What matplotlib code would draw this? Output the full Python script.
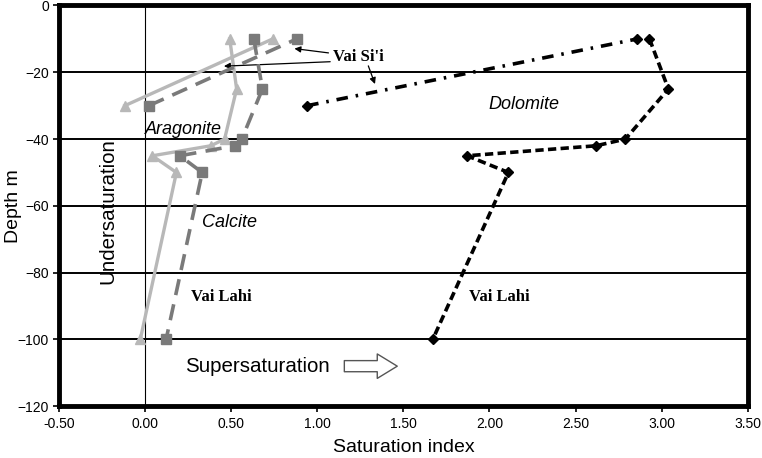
"""Saturation index vs depth for aragonite, calcite and dolomite (Vai Lahi / Vai Si'i)."""

import matplotlib
matplotlib.use("Agg")
import matplotlib.pyplot as plt

# --- data ---
depth_lahi = [-10, -25, -40, -42, -45, -50, -100]
depth_sii = [-30, -10]

dol_lahi = [2.93, 3.04, 2.79, 2.62, 1.87, 2.11, 1.67]
dol_sii = [0.94, 2.86]

cal_lahi = [0.63, 0.68, 0.56, 0.52, 0.20, 0.33, 0.12]
cal_sii = [0.02, 0.88]

ara_lahi = [0.49, 0.53, 0.46, 0.38, 0.04, 0.18, -0.03]
ara_sii = [-0.12, 0.74]

xticks = [-0.5, 0.0, 0.5, 1.0, 1.5, 2.0, 2.5, 3.0, 3.5]
yticks = [0, -20, -40, -60, -80, -100, -120]

SANS = ["Liberation Sans", "DejaVu Sans"]
SERIF = ["Liberation Serif", "DejaVu Serif"]

LIGHT = "#b8b8b8"
MID = "#7a7a7a"

fig = plt.figure(figsize=(7.62, 4.58), dpi=100)
ax = fig.add_axes([0.078, 0.113, 0.903, 0.875])

# gridlines + zero line
for y in yticks[1:-1]:
    ax.axhline(y, color="black", lw=1.4, zorder=1)
ax.axvline(0, color="black", lw=0.8, zorder=1)

# aragonite
ax.plot(ara_lahi, depth_lahi, "-", color=LIGHT, lw=2.4, marker="^", ms=7, zorder=3)
ax.plot(ara_sii, depth_sii, "-", color=LIGHT, lw=2.4, marker="^", ms=7, zorder=3)
# calcite
ax.plot(cal_lahi, depth_lahi, color=MID, lw=2.6, dashes=(4.5, 2.6), marker="s", ms=7, zorder=4)
ax.plot(cal_sii, depth_sii, color=MID, lw=2.6, dashes=(4.5, 2.6), marker="s", ms=7, zorder=4)
# dolomite
ax.plot(dol_lahi, depth_lahi, color="black", lw=2.6, dashes=(2.3, 1.2), marker="D", ms=5, zorder=5)
ax.plot(dol_sii, depth_sii, color="black", lw=2.6, dashes=(3.2, 2.2, 0.7, 2.2), marker="D", ms=5, zorder=5)

ax.set_xlim(-0.5, 3.5)
ax.set_ylim(-120, 0)
ax.set_xticks(xticks)
ax.set_xticklabels([f"{v:.2f}" for v in xticks], family=SANS, fontsize=10)
ax.set_yticks(yticks)
ax.set_yticklabels([str(v).replace("-", "\u2212") for v in yticks], family=SANS, fontsize=10)
ax.tick_params(length=4, width=1.2, direction="out")
for sp in ax.spines.values():
    sp.set_linewidth(3.5)

ax.set_xlabel("Saturation index", family=SANS, fontsize=14, labelpad=6)
ax.set_ylabel("Depth m", family=SANS, fontsize=14)
ax.yaxis.set_label_coords(-0.054, 0.5)

# mineral labels
ax.text(2.20, -29.5, "Dolomite", family=SANS, style="italic", fontsize=13, ha="center", va="center")
ax.text(0.22, -37, "Aragonite", family=SANS, style="italic", fontsize=13, ha="center", va="center")
ax.text(0.49, -65, "Calcite", family=SANS, style="italic", fontsize=13, ha="center", va="center")

ax.text(0.44, -87.2, "Vai Lahi", family=SERIF, weight="bold", fontsize=12, ha="center", va="center")
ax.text(2.06, -87.2, "Vai Lahi", family=SERIF, weight="bold", fontsize=12, ha="center", va="center")

ax.text(-0.22, -61.5, "Undersaturation", family=SANS, fontsize=14.8, rotation=90,
        ha="center", va="center")
ax.text(0.23, -108, "Supersaturation", family=SANS, fontsize=14.8, ha="left", va="center")
ax.annotate("", xy=(1.48, -108), xytext=(1.14, -108),
            arrowprops=dict(arrowstyle="simple,head_length=0.9,head_width=1.1,tail_width=0.5",
                            fc="white", ec="#555555", lw=1, mutation_scale=16))

# Vai Si'i label with pointer arrows
ax.text(1.24, -15.3, "Vai Si'i", family=SERIF, weight="bold", fontsize=12, ha="center", va="center")
arrow = dict(arrowstyle="-|>", color="black", lw=0.9, mutation_scale=9)
ax.annotate("", xy=(0.85, -12.8), xytext=(1.08, -14.3), arrowprops=arrow)
ax.annotate("", xy=(0.44, -18.2), xytext=(1.09, -16.8), arrowprops=arrow)
ax.annotate("", xy=(1.34, -24.3), xytext=(1.29, -17.3), arrowprops=arrow)

fig.savefig("out.png", dpi=100)
